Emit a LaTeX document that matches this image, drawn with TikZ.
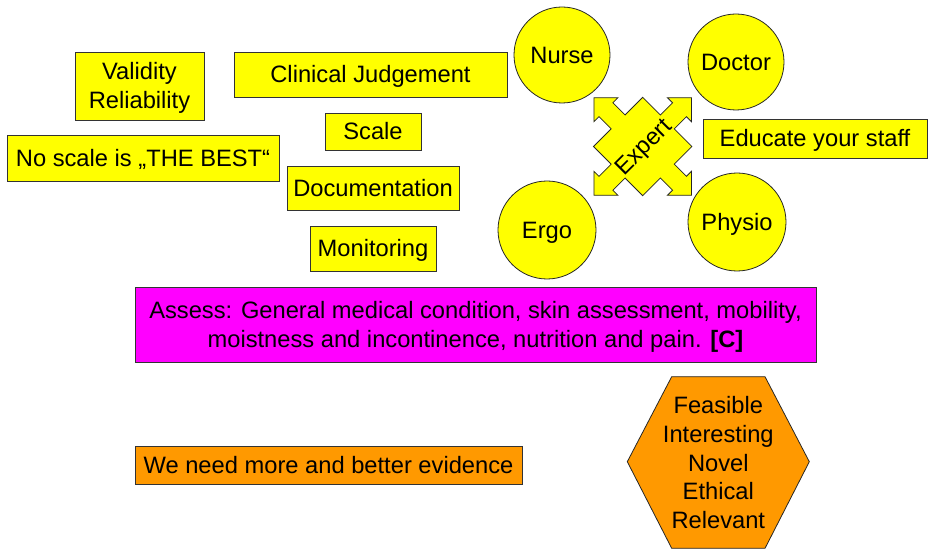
\documentclass[tikz,border=0pt]{standalone}
\usepackage{fontspec}
\setmainfont{Liberation Sans}
\definecolor{boxyellow}{RGB}{255,255,0}
\definecolor{boxmagenta}{RGB}{255,0,255}
\definecolor{boxorange}{RGB}{255,153,0}
% invisible strut spanning the full line box of the body font
\newcommand{\lbstrut}{\rule[-5pt]{0pt}{26.4pt}}
\begin{document}
\begin{tikzpicture}[x=1pt,y=-1pt,
  txt/.style={font=\fontsize{23.7}{28.8}\selectfont, align=center, text=black},
  ybox/.style={txt, draw=black!80, line width=0.8pt, fill=boxyellow, inner sep=0pt, rectangle},
  pbox/.style={ybox, fill=boxmagenta},
  obox/.style={ybox, fill=boxorange},
  role/.style={txt, draw=black!85, line width=0.8pt, fill=boxyellow, circle, inner sep=0pt}]
\useasboundingbox (0,0) rectangle (928,553);

% rectangular boxes (centre, width, height)
\node[ybox, minimum width=129pt, minimum height=68pt] (val) at (139.5,86) {\lbstrut Validity\\Reliability\lbstrut};
\node[ybox, minimum width=273pt, minimum height=45pt] (clin) at (370.5,74.5) {\lbstrut Clinical Judgement};
\node[ybox, minimum width=96pt, minimum height=37pt] (scale) at (373,131.5) {\lbstrut Scale};
\node[ybox, minimum width=272pt, minimum height=46pt] (noscale) at (143,158) {\lbstrut No scale is „THE BEST“};
\node[ybox, minimum width=172pt, minimum height=44pt] (doc) at (373,188) {\lbstrut Documentation};
\node[ybox, minimum width=126pt, minimum height=45pt] (mon) at (373,248.5) {\lbstrut Monitoring};
\node[ybox, minimum width=224pt, minimum height=39pt] (edu) at (815,138.5) {\lbstrut Educate your staff};
\node[pbox, minimum width=681pt, minimum height=75pt] (assess) at (475.5,324.5)
  {\lbstrut Assess: General medical condition, skin assessment, mobility,\\moistness and incontinence, nutrition and pain. \textbf{[C]}\lbstrut};
\node[obox, minimum width=387pt, minimum height=38pt] (evid) at (328.5,465) {\lbstrut We need more and better evidence};

% team members
\node[role, minimum size=96pt] (nurse) at (562,55) {\lbstrut Nurse};
\node[role, minimum size=96pt] (doctor) at (736,62) {\lbstrut Doctor};
\node[role, minimum size=98pt] (ergo) at (547,230) {\lbstrut Ergo};
\node[role, minimum size=98pt] (physio) at (737,222) {\lbstrut Physio};

% quad arrow around the expert
\begin{scope}[shift={(642.7,146.5)}, rotate=45]
  \def\sq{34.8}\def\aw{9.8}\def\hb{52}\def\hw{17}\def\tp{69}
  \draw[draw=black!85, line width=0.8pt, fill=boxyellow, line join=miter]
    (\sq,\sq) -- (\sq,\aw) -- (\hb,\aw) -- (\hb,\hw) -- (\tp,0) -- (\hb,-\hw) -- (\hb,-\aw) -- (\sq,-\aw)
    -- (\sq,-\sq) -- (\aw,-\sq) -- (\aw,-\hb) -- (\hw,-\hb) -- (0,-\tp) -- (-\hw,-\hb) -- (-\aw,-\hb) -- (-\aw,-\sq)
    -- (-\sq,-\sq) -- (-\sq,-\aw) -- (-\hb,-\aw) -- (-\hb,-\hw) -- (-\tp,0) -- (-\hb,\hw) -- (-\hb,\aw) -- (-\sq,\aw)
    -- (-\sq,\sq) -- (-\aw,\sq) -- (-\aw,\hb) -- (-\hw,\hb) -- (0,\tp) -- (\hw,\hb) -- (\aw,\hb) -- (\aw,\sq)
    -- cycle;
\end{scope}
\node[txt, rotate=45, inner sep=0pt] (expert) at (642.7,146.5) {\lbstrut Expert};

% research criteria hexagon
\coordinate (h1) at (627.3,461.7);
\coordinate (h2) at (671.7,376.7);
\coordinate (h3) at (765,376.7);
\coordinate (h4) at (809.3,461.7);
\coordinate (h5) at (765,548.3);
\coordinate (h6) at (671.7,548.3);
\draw[draw=black!85, line width=0.8pt, fill=boxorange]
  (h1) -- (h2) -- (h3) -- (h4) -- (h5) -- (h6) -- cycle;
\node[txt, inner sep=0pt] (crit) at (718.3,462.8) {\lbstrut Feasible\\Interesting\\Novel\\Ethical\\Relevant\lbstrut};
\end{tikzpicture}
\end{document}
